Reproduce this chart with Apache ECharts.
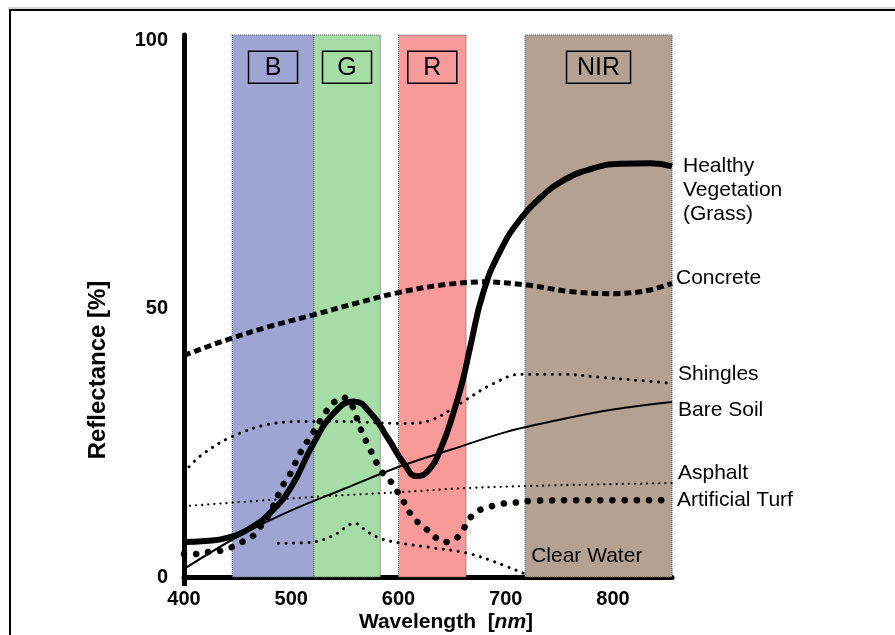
<!DOCTYPE html>
<html>
<head>
<meta charset="utf-8">
<script src="https://cdn.jsdelivr.net/npm/echarts@6/dist/echarts.min.js"></script>
<style>
html,body{margin:0;padding:0;background:#fff;}
#c{width:895px;height:635px;}
</style>
</head>
<body>
<div id="c"></div>
<script>
// ---- data ----
const wavelengthTicks = [400, 500, 600, 700, 800];
const reflectanceTicks = [0, 50, 100];

const bandNames = ['B', 'G', 'R', 'NIR'];
const bandStart = [445, 521, 600, 718];
const bandEnd   = [521, 583, 663, 855];

const healthyVegetation = [[400,6.5],[420,6.7],[440,7.3],[460,8.9],[480,11.9],[500,16.8],[520,24.6],[540,30.6],[558,32.7],[575,30.3],[590,25.9],[605,21.2],[617,18.8],[628,19.9],[640,24.2],[652,31.1],[660,36.7],[667,43.0],[679,53.0],[695,60.8],[714,66.8],[733,70.8],[751,73.6],[779,76.0],[807,77.0],[835,77.1],[855,76.5]];
const concrete = [[400,41.3],[440,44.2],[480,46.7],[520,48.8],[560,51.0],[600,53.0],[640,54.4],[680,55.0],[720,54.4],[760,53.2],[800,52.8],[830,53.3],[855,54.7]];
const shingles = [[400,19.5],[415,22.5],[443,26.0],[480,28.5],[520,29.0],[564,28.9],[602,28.6],[630,29.2],[658,32.4],[686,35.8],[714,37.8],[751,37.8],[789,37.2],[826,36.6],[855,36.1]];
const bareSoil = [[400,1.5],[450,7.5],[500,12.4],[550,16.5],[600,20.5],[650,23.8],[700,27.0],[750,29.3],[800,31.2],[855,32.6]];
const asphalt = [[400,13.2],[520,14.9],[600,15.8],[667,16.6],[750,17.1],[855,17.5]];
const artificialTurf = [[400,4.3],[410,4.3],[424,4.7],[434,4.9],[445,5.6],[454,6.5],[464,7.6],[471,9.3],[478,11.2],[492,17.0],[499,19.2],[508,23.0],[520,26.8],[532,30.7],[539,32.4],[548,33.5],[557,31.8],[564,27.9],[574,23.6],[584,19.7],[592,18.0],[598,16.2],[604,14.3],[614,11.0],[625,9.1],[633,7.6],[642,6.5],[653,7.1],[660,8.7],[665,10.6],[674,12.3],[684,13.0],[695,13.6],[706,13.8],[723,14.2],[780,14.3],[855,14.3]];
const clearWater = [[488,6.3],[520,6.5],[540,7.8],[559,10.0],[572,8.3],[583,7.2],[602,6.3],[630,5.5],[663,4.5],[690,2.8],[719,0.5]];

// ---- styles ----
const bandColors = {B:'#9fa5d2', G:'#a6dda6', R:'#f89a9a', NIR:'#b5a191'};
const FONT = 'Arial, "Liberation Sans", sans-serif';

const chart = echarts.init(document.getElementById('c'), null, {renderer:'canvas'});

function lineSeries(name, data, ls, label, smooth) {
  return {
    type:'line', name, data, smooth: smooth || 0.35, symbol:'none', silent:true,
    lineStyle: Object.assign({color:'#000'}, ls),
    endLabel: Object.assign({show:true, formatter: label.text, color:'#000', fontSize:21, fontFamily:FONT, lineHeight:24, distance: 5}, label.opt || {}),
    z: 5
  };
}

const option = {
  animation:false,
  backgroundColor:'#fff',
  grid:{left:184, right:223, top:35, bottom:58, containLabel:false, outerBoundsMode:'none'},
  xAxis:{
    type:'value', min:400, max:855, interval:100,
    axisLine:{show:true, lineStyle:{color:'#000', width:5}},
    axisTick:{show:true, customValues:[400], length:9, lineStyle:{color:'#000', width:5}},
    splitLine:{show:false},
    axisLabel:{customValues: wavelengthTicks, color:'#000', fontWeight:'bold', fontSize:20, fontFamily:FONT, margin:12}
  },
  yAxis:{
    type:'value', min:0, max:101,
    axisLine:{show:true, lineStyle:{color:'#000', width:5}},
    axisTick:{show:false},
    splitLine:{show:false},
    axisLabel:{customValues: reflectanceTicks, color:'#000', fontWeight:'bold', fontSize:20, fontFamily:FONT, margin:16}
  },
  graphic:[
    {type:'line', shape:{x1:8, y1:8, x2:900, y2:8}, style:{stroke:'#aaa', lineWidth:1}, z:100},
    {type:'rect', shape:{x:10, y:10, width:1000, height:1000}, style:{fill:'none', stroke:'#000', lineWidth:2}, z:100},
    {type:'text', x:98, y:370, rotation:Math.PI/2, z:100,
      style:{text:'Reflectance [%]', align:'center', verticalAlign:'middle', font:'bold 24px ' + FONT, fill:'#000'}},
    {type:'text', x:446, y:622, z:100,
      style:{text:'{a|Wavelength  [}{b|nm}{a|]}', align:'center', verticalAlign:'middle', fill:'#000',
        rich:{a:{font:'bold 21px ' + FONT, fill:'#000'}, b:{font:'italic bold 21px ' + FONT, fill:'#000'}}}}
  ],
  series:[
    {
      type:'custom', silent:true, clip:false, z:1,
      data: bandNames.map((n,i)=>[bandStart[i], bandEnd[i], i]),
      renderItem:function(params, api){
        const i = api.value(2);
        const name = bandNames[i];
        const p0 = api.coord([api.value(0), 0]);
        const p1 = api.coord([api.value(1), 101]);
        const cx = (p0[0]+p1[0])/2;
        const cy = api.coord([0, 95])[1];
        const bw = name.length > 1 ? 64 : 49;
        const bh = 32;
        return {type:'group', children:[
          {type:'rect', shape:{x:p0[0], y:p1[1], width:p1[0]-p0[0], height:p0[1]-p1[1]},
           style:{fill:bandColors[name], stroke:'#555', lineWidth:1, lineDash:[1,1]}},
          {type:'rect', shape:{x:cx-bw/2, y:cy-bh/2, width:bw, height:bh},
           style:{fill:'none', stroke:'#000', lineWidth:1.5}},
          {type:'text', style:{text:name, x:cx, y:cy+1, align:'center', verticalAlign:'middle',
            font:'25px ' + FONT, fill:'#000'}}
        ]};
      }
    },
    lineSeries('Bare Soil', bareSoil, {width:2}, {text:'Bare Soil', opt:{offset:[1,8]}}),
    lineSeries('Asphalt', asphalt, {width:2.2, type:[0.1,6], cap:'round'}, {text:'Asphalt', opt:{offset:[1,-10]}}),
    lineSeries('Shingles', shingles, {width:3, type:[0.1,7.5], cap:'round'}, {text:'Shingles', opt:{offset:[1,-9]}}),
    lineSeries('Clear Water', clearWater, {width:3, type:[0.1,7.5], cap:'round'}, {text:'Clear Water', opt:{offset:[0,-18]}}),
    lineSeries('Artificial Turf', artificialTurf, {width:6.5, type:[0.1,12], cap:'round'}, {text:'Artificial Turf', opt:{offset:[0,0]}}),
    lineSeries('Concrete', concrete, {width:5, type:[7,4]}, {text:'Concrete', opt:{offset:[-1,-5]}}),
    lineSeries('Healthy Vegetation (Grass)', healthyVegetation, {width:6}, {text:'Healthy\nVegetation\n(Grass)', opt:{offset:[6,24]}}, 0.5)
  ]
};
chart.setOption(option);
</script>
</body>
</html>
